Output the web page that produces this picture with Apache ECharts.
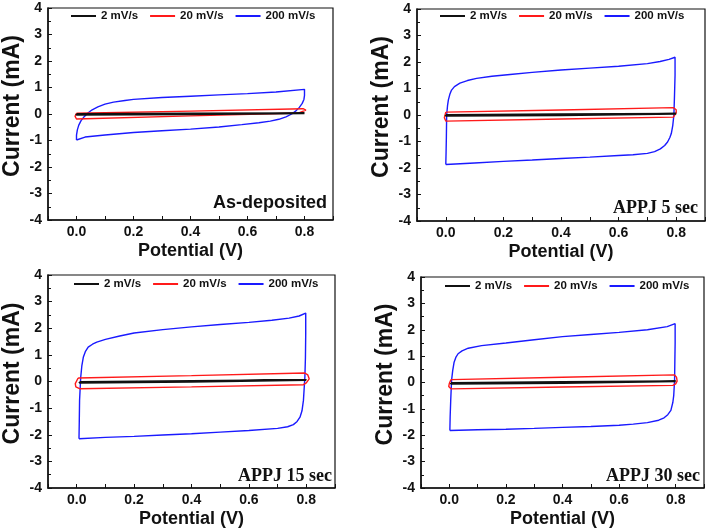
<!DOCTYPE html>
<html>
<head>
<meta charset="utf-8">
<script src="https://cdn.jsdelivr.net/npm/echarts@6/dist/echarts.min.js"></script>
<style>html,body{margin:0;padding:0;background:#fff;}#c{width:709px;height:532px;}</style>
</head>
<body>
<div id="c"></div>
<script>
// ---- data ----
const seriesNames = ['2 mV/s', '20 mV/s', '200 mV/s'];
const panelLabels = ['As-deposited', 'APPJ 5 sec', 'APPJ 15 sec', 'APPJ 30 sec'];
const xLabelValues = [0.0, 0.2, 0.4, 0.6, 0.8];
const xMin = -0.1, xMax = 0.9, yMin = -4, yMax = 4;

// As-deposited
const asDep_2 = [[0.0,0.0],[0.4,0.015],[0.8,0.03],[0.8,0.01],[0.4,-0.01],[0.0,-0.03],[0.0,0.0]];
const asDep_20 = [[0.0,0.03],[0.4,0.11],[0.795,0.2],[0.805,0.15],[0.8,0.08],[0.78,0.04],[0.4,-0.07],[0.0,-0.19],[-0.005,-0.09],[0.0,0.03]];
const asDep_200 = [[0.0,-0.98],[0.0,-0.8],[0.003,-0.6],[0.008,-0.42],[0.016,-0.25],[0.027,-0.1],[0.04,0.04],[0.055,0.16],[0.075,0.27],[0.1,0.37],[0.13,0.45],[0.17,0.51],[0.2,0.55],[0.3,0.62],[0.4,0.67],[0.5,0.72],[0.6,0.77],[0.7,0.83],[0.8,0.93],
  [0.8,0.7],[0.798,0.55],[0.792,0.4],[0.782,0.25],[0.77,0.12],[0.755,0.0],[0.735,-0.11],[0.71,-0.2],[0.68,-0.27],[0.64,-0.33],[0.58,-0.4],[0.5,-0.49],[0.4,-0.57],[0.3,-0.63],[0.2,-0.7],[0.1,-0.79],[0.03,-0.87],[0.0,-0.98]];

// APPJ 5 sec
const appj5_2 = [[0.0,0.0],[0.4,0.025],[0.8,0.05],[0.8,0.02],[0.4,-0.005],[0.0,-0.03],[0.0,0.0]];
const appj5_20 = [[0.0,0.11],[0.4,0.19],[0.79,0.28],[0.8,0.2],[0.8,0.08],[0.79,-0.08],[0.4,-0.15],[0.0,-0.23],[-0.005,-0.1],[0.0,0.11]];
const appj5_200 = [[0.0,-1.87],[0.001,-1.4],[0.002,-0.82],[0.003,0.0],[0.006,0.35],[0.009,0.57],[0.014,0.78],[0.02,0.94],[0.03,1.07],[0.049,1.2],[0.075,1.3],[0.107,1.38],[0.16,1.46],[0.223,1.53],[0.3,1.61],[0.4,1.7],[0.5,1.77],[0.6,1.84],[0.7,1.94],[0.744,2.02],[0.775,2.1],[0.796,2.18],
  [0.796,1.5],[0.794,0.7],[0.792,0.0],[0.788,-0.4],[0.783,-0.7],[0.778,-0.85],[0.77,-1.02],[0.76,-1.15],[0.745,-1.28],[0.725,-1.38],[0.7,-1.45],[0.65,-1.5],[0.6,-1.53],[0.5,-1.59],[0.4,-1.64],[0.3,-1.7],[0.2,-1.75],[0.1,-1.81],[0.0,-1.87]];

// APPJ 15 sec
const appj15_2 = [[0.01,-0.02],[0.4,0.02],[0.8,0.06],[0.8,0.03],[0.4,-0.01],[0.01,-0.05],[0.01,-0.02]];
const appj15_20 = [[0.005,0.13],[0.4,0.22],[0.795,0.32],[0.805,0.25],[0.81,0.1],[0.8,-0.05],[0.79,-0.12],[0.4,-0.2],[0.01,-0.27],[-0.003,-0.2],[-0.005,-0.08],[0.005,0.13]];
const appj15_200 = [[0.008,-2.15],[0.009,-1.5],[0.01,-0.71],[0.014,0.16],[0.018,0.6],[0.023,0.91],[0.03,1.12],[0.04,1.29],[0.055,1.4],[0.07,1.48],[0.1,1.58],[0.15,1.71],[0.2,1.82],[0.3,1.95],[0.4,2.05],[0.5,2.14],[0.6,2.22],[0.68,2.3],[0.74,2.38],[0.775,2.46],[0.798,2.57],
  [0.798,1.8],[0.797,0.9],[0.795,0.16],[0.79,-0.71],[0.785,-1.1],[0.778,-1.34],[0.768,-1.5],[0.755,-1.62],[0.735,-1.7],[0.7,-1.76],[0.6,-1.84],[0.5,-1.9],[0.4,-1.96],[0.3,-2.01],[0.2,-2.06],[0.1,-2.1],[0.008,-2.15]];

// APPJ 30 sec
const appj30_2 = [[0.006,-0.02],[0.4,0.015],[0.8,0.05],[0.8,0.02],[0.4,-0.015],[0.006,-0.05],[0.006,-0.02]];
const appj30_20 = [[0.006,0.11],[0.4,0.2],[0.795,0.29],[0.803,0.2],[0.805,0.05],[0.8,-0.05],[0.79,-0.11],[0.4,-0.17],[0.006,-0.24],[-0.002,-0.15],[0.0,-0.04],[0.006,0.11]];
const appj30_200 = [[0.002,-1.82],[0.003,-1.3],[0.005,-0.68],[0.008,0.08],[0.012,0.45],[0.017,0.77],[0.023,0.95],[0.031,1.09],[0.045,1.2],[0.067,1.3],[0.114,1.4],[0.2,1.5],[0.3,1.62],[0.4,1.74],[0.5,1.82],[0.6,1.9],[0.7,2.0],[0.77,2.12],[0.798,2.23],
  [0.798,1.5],[0.797,0.8],[0.796,0.08],[0.793,-0.5],[0.79,-0.75],[0.783,-1.06],[0.772,-1.22],[0.759,-1.34],[0.74,-1.43],[0.7,-1.52],[0.65,-1.58],[0.6,-1.62],[0.5,-1.67],[0.4,-1.7],[0.3,-1.74],[0.2,-1.77],[0.1,-1.79],[0.002,-1.82]];

const panelData = [
  [asDep_2, asDep_20, asDep_200],
  [appj5_2, appj5_20, appj5_200],
  [appj15_2, appj15_20, appj15_200],
  [appj30_2, appj30_20, appj30_200]
];

// ---- layout / style ----
const colors = ['#111111', '#ff1a1a', '#1a1aff'];
const widths = [2, 1.4, 1.4];
const grids = [
  {left: 47, top: 8, width: 286, height: 212},
  {left: 417, top: 9, width: 288, height: 212},
  {left: 48, top: 275, width: 287, height: 213},
  {left: 421, top: 277, width: 283, height: 211}
];
const legendPos = [{left: 71, top: 10}, {left: 440, top: 10}, {left: 74, top: 278}, {left: 445, top: 280}];
const labelPos = [
  {x: 327, y: 203, font: 'bold 18px "Liberation Sans", Arial, sans-serif'},
  {x: 698, y: 208, font: 'bold 18px "Liberation Serif", "Times New Roman", serif'},
  {x: 332, y: 476, font: 'bold 18px "Liberation Serif", "Times New Roman", serif'},
  {x: 700, y: 476, font: 'bold 18px "Liberation Serif", "Times New Roman", serif'}
];
const FONT = '"Liberation Sans", Arial, sans-serif';

const xAxes = [], yAxes = [], series = [], legends = [], graphics = [];
grids.forEach((g, i) => {
  xAxes.push({
    type: 'value', gridIndex: i, min: xMin, max: xMax, interval: 0.1,
    name: 'Potential (V)', nameLocation: 'middle', nameGap: 22,
    nameTextStyle: {fontFamily: FONT, fontWeight: 'bold', fontSize: 18, color: '#111'},
    axisLine: {show: true, onZero: false, lineStyle: {color: '#111', width: 1.5}},
    axisTick: {show: true, inside: true, length: 4, lineStyle: {color: '#111'}},
    axisLabel: {
      margin: 5, fontFamily: FONT, fontWeight: 'bold', fontSize: 14, color: '#111',
      formatter: v => xLabelValues.some(t => Math.abs(t - v) < 1e-6) ? v.toFixed(1) : ''
    },
    splitLine: {show: false}
  });
  yAxes.push({
    type: 'value', gridIndex: i, min: yMin, max: yMax, interval: 1,
    name: 'Current (mA)', nameLocation: 'middle', nameGap: 24,
    nameTextStyle: {fontFamily: FONT, fontWeight: 'bold', fontSize: 23, color: '#111', padding: [0, 0, 0, 16]},
    axisLine: {show: true, onZero: false, lineStyle: {color: '#111', width: 1.5}},
    axisTick: {show: true, inside: true, length: 4, lineStyle: {color: '#111'}},
    minorTick: {show: true, splitNumber: 2, length: 3, lineStyle: {color: '#111'}},
    axisLabel: {margin: 6, fontFamily: FONT, fontWeight: 'bold', fontSize: 14, color: '#111'},
    splitLine: {show: false}
  });
  panelData[i].forEach((d, k) => {
    series.push({
      type: 'line', name: seriesNames[k], xAxisIndex: i, yAxisIndex: i,
      data: d, showSymbol: false, symbol: 'none', smooth: false,
      lineStyle: {color: colors[k], width: widths[k]}, itemStyle: {color: colors[k]},
      z: 3 - k
    });
  });
  legends.push({
    left: legendPos[i].left, top: legendPos[i].top, padding: 0,
    orient: 'horizontal', icon: 'rect', itemWidth: 25, itemHeight: 2, itemGap: 12,
    data: seriesNames,
    textStyle: {fontFamily: FONT, fontWeight: 'bold', fontSize: 11.5, color: '#111'}
  });
  graphics.push({
    type: 'text', x: labelPos[i].x, y: labelPos[i].y, z: 10,
    style: {text: panelLabels[i], font: labelPos[i].font, fill: '#111', textAlign: 'right', textVerticalAlign: 'middle'}
  });
});

const chart = echarts.init(document.getElementById('c'), null, {renderer: 'canvas'});
chart.setOption({
  animation: false,
  backgroundColor: '#fff',
  grid: grids.map(g => Object.assign({show: true, borderColor: '#111', borderWidth: 1.2, backgroundColor: 'transparent'}, g)),
  xAxis: xAxes,
  yAxis: yAxes,
  legend: legends,
  series: series,
  graphic: graphics
});
</script>
</body>
</html>
